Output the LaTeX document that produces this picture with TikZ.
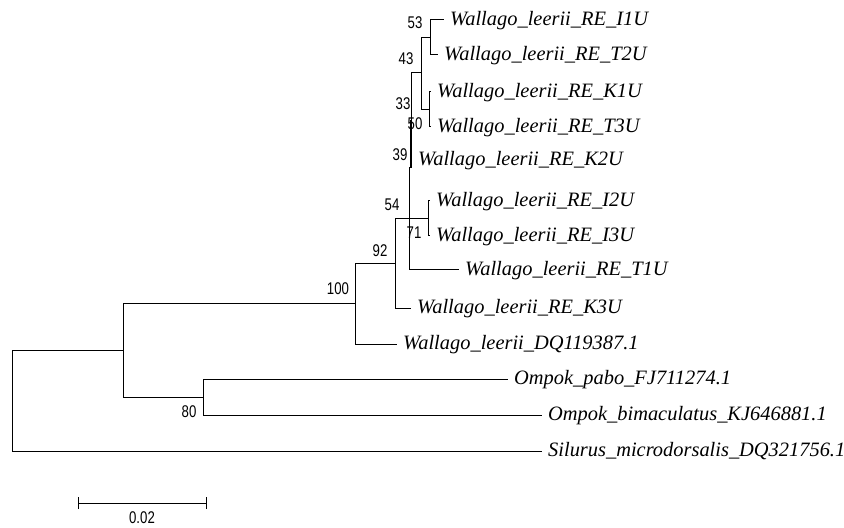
\documentclass[tikz,border=0pt]{standalone}
\usepackage{fontspec}
\setmainfont{Liberation Serif}
\newfontfamily\bsfont[FakeStretch=0.78]{Liberation Sans}
\usetikzlibrary{positioning}

\begin{document}
\begin{tikzpicture}[
    x=1bp, y=-1bp,
    branch/.style={line width=1bp, line join=miter},
    stem/.style={line width=2.4bp},
    taxon/.style={
      anchor=base west, inner sep=0pt, xshift=6bp, yshift=-5.5bp,
      font=\fontsize{20.5}{20.5}\selectfont\itshape
    },
    boot/.style={inner sep=0pt, font=\fontsize{17}{17}\bsfont}
  ]

\useasboundingbox (0,0) rectangle (844,528);

% --- Internal nodes ---
    \coordinate (root) at (12,400.5);
    \coordinate (nA)   at (123,350.5);
    \coordinate (n80)  at (203,397);
    \coordinate (n100) at (355,303.5);
    \coordinate (n92)  at (395,263.5);
    \coordinate (n54)  at (409,218.5);
    \coordinate (n71)  at (428,218.5);
    \coordinate (n39)  at (411,168);
    \coordinate (n50)  at (411,120);
    \coordinate (n43)  at (421,73);
    \coordinate (n53)  at (430,37.5);
    \coordinate (nKT)  at (429,109.5);

% --- Branch tips ---
    \coordinate (I1U) at (444,20);
    \coordinate (T2U) at (438,55);
    \coordinate (K1U) at (431,92);
    \coordinate (T3U) at (431,127);
    \coordinate (K2U) at (412,160);
    \coordinate (I2U) at (430,201);
    \coordinate (I3U) at (430,236);
    \coordinate (T1U) at (459,270);
    \coordinate (K3U) at (411,308);
    \coordinate (DQw) at (397,344);
    \coordinate (pabo)  at (508,379);
    \coordinate (bimac) at (542,415);
    \coordinate (silu)  at (542,451);

% --- Branches ---
    \draw[branch] (root) |- (nA);
    \draw[branch] (root) |- (silu);
    \draw[branch] (nA) |- (n100);
    \draw[branch] (nA) |- (n80);
    \draw[branch] (n80) |- (pabo);
    \draw[branch] (n80) |- (bimac);
    \draw[branch] (n100) |- (n92);
    \draw[branch] (n100) |- (DQw);
    \draw[branch] (n92) |- (n54);
    \draw[branch] (n92) |- (K3U);
    \draw[branch] (n54) |- (n39);
    \draw[branch] (n54) |- (n71);
    \draw[branch] (n54) |- (T1U);
    \draw[branch] (n71) |- (I2U);
    \draw[branch] (n71) |- (I3U);
    \draw[branch] (n39) |- (n43);
    \draw[branch] (n39) |- (K2U);
    \draw[stem] (n50) -- (n39);
    \draw[branch] (n43) |- (n53);
    \draw[branch] (n43) |- (nKT);
    \draw[branch] (n53) |- (I1U);
    \draw[branch] (n53) |- (T2U);
    \draw[branch] (nKT) |- (K1U);
    \draw[branch] (nKT) |- (T3U);

% --- Taxon labels ---
    \node[taxon] (tI1U) at (I1U) {Wallago\_leerii\_RE\_I1U};
    \node[taxon] (tT2U) at (T2U) {Wallago\_leerii\_RE\_T2U};
    \node[taxon] (tK1U) at (K1U) {Wallago\_leerii\_RE\_K1U};
    \node[taxon] (tT3U) at (T3U) {Wallago\_leerii\_RE\_T3U};
    \node[taxon] (tK2U) at (K2U) {Wallago\_leerii\_RE\_K2U};
    \node[taxon] (tI2U) at (I2U) {Wallago\_leerii\_RE\_I2U};
    \node[taxon] (tI3U) at (I3U) {Wallago\_leerii\_RE\_I3U};
    \node[taxon] (tT1U) at (T1U) {Wallago\_leerii\_RE\_T1U};
    \node[taxon] (tK3U) at (K3U) {Wallago\_leerii\_RE\_K3U};
    \node[taxon] (tDQw) at (DQw) {Wallago\_leerii\_DQ119387.1};
    \node[taxon] (tpabo)  at (pabo)  {Ompok\_pabo\_FJ711274.1};
    \node[taxon] (tbimac) at (bimac) {Ompok\_bimaculatus\_KJ646881.1};
    \node[taxon] (tsilu)  at (silu)  {Silurus\_microdorsalis\_DQ321756.1};

% --- Bootstrap values ---
    \node[boot] (b53)  at (415,23)  {53};
    \node[boot] (b43)  at (406,59)  {43};
    \node[boot] (b33)  at (403,104) {33};
    \node[boot] (b50)  at (415,124) {50};
    \node[boot] (b39)  at (400,155) {39};
    \node[boot] (b54)  at (392,205) {54};
    \node[boot] (b71)  at (414,233) {71};
    \node[boot] (b92)  at (380,251) {92};
    \node[boot] (b100) at (338,289) {100};
    \node[boot] (b80)  at (189,412) {80};

% --- Scale bar ---
    \coordinate (sbL) at (78,503);
    \coordinate (sbR) at (206,503);
    \draw[branch] (sbL) -- (sbR);
    \draw[branch] ([yshift=-6bp]sbL) -- ([yshift=6bp]sbL);
    \draw[branch] ([yshift=-6bp]sbR) -- ([yshift=6bp]sbR);
    \node[boot, below=8bp of sbL, xshift=64bp] (sbtxt) {0.02};

\end{tikzpicture}
\end{document}
